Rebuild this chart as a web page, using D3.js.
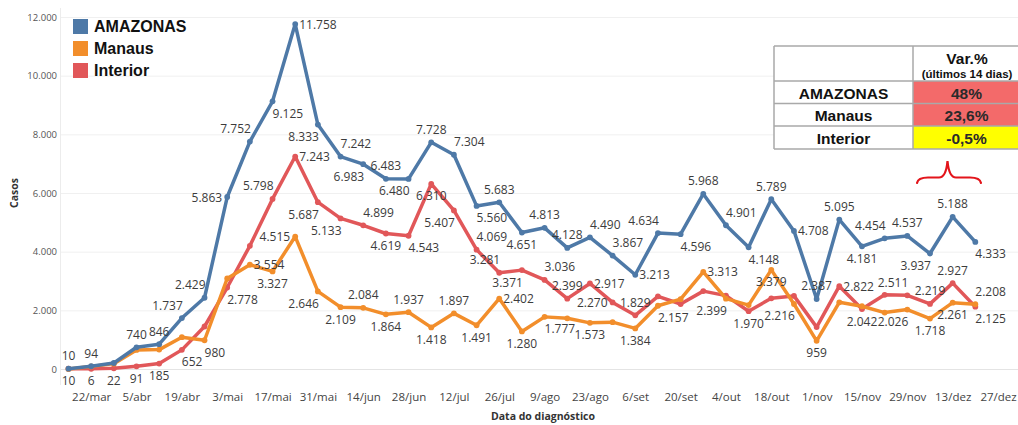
<!DOCTYPE html>
<html>
<head>
<meta charset="utf-8">
<script src="https://cdn.jsdelivr.net/npm/d3@7"></script>
<style>
  html, body { margin: 0; padding: 0; background: #fff; }
  svg { display: block; }
</style>
</head>
<body>
<svg id="chart" width="1018" height="425"></svg>
<script>
// Weekly case counts by date of diagnosis (week starting Sunday)
const weeks = [
  "2020-03-15","2020-03-22","2020-03-29","2020-04-05","2020-04-12","2020-04-19","2020-04-26",
  "2020-05-03","2020-05-10","2020-05-17","2020-05-24","2020-05-31","2020-06-07","2020-06-14",
  "2020-06-21","2020-06-28","2020-07-05","2020-07-12","2020-07-19","2020-07-26","2020-08-02",
  "2020-08-09","2020-08-16","2020-08-23","2020-08-30","2020-09-06","2020-09-13","2020-09-20",
  "2020-09-27","2020-10-04","2020-10-11","2020-10-18","2020-10-25","2020-11-01","2020-11-08",
  "2020-11-15","2020-11-22","2020-11-29","2020-12-06","2020-12-13","2020-12-20"
];
const amazonas = [10, 94, 205, 740, 846, 1737, 2429, 5863, 7752, 9125, 11758, 8333, 7242, 6983, 6483,
  6480, 7728, 7304, 5560, 5683, 4651, 4813, 4128, 4490, 3867, 3213, 4634, 4596, 5968, 4901,
  4148, 5789, 4708, 2387, 5095, 4181, 4454, 4537, 3937, 5188, 4333];
const manaus = [0, 88, 183, 649, 661, 1085, 980, 3085, 3554, 3327, 4515, 2646, 2109, 2084, 1864,
  1937, 1418, 1897, 1491, 2402, 1280, 1777, 1729, 1573, 1597, 1384, 2157, 2380, 3313, 2399,
  2178, 3379, 2216, 959, 2273, 2139, 1924, 2026, 1718, 2261, 2208];
const interior = [10, 6, 22, 91, 185, 652, 1449, 2778, 4198, 5798, 7243, 5687, 5133, 4899, 4619,
  4543, 6310, 5407, 4069, 3281, 3371, 3036, 2399, 2917, 2270, 1829, 2477, 2216, 2655, 2502,
  1970, 2410, 2492, 1428, 2822, 2042, 2530, 2511, 2219, 2927, 2125];

const seriesNames = ["AMAZONAS", "Manaus", "Interior"];

const tickDates = ["2020-03-22","2020-04-05","2020-04-19","2020-05-03","2020-05-17","2020-05-31",
  "2020-06-14","2020-06-28","2020-07-12","2020-07-26","2020-08-09","2020-08-23","2020-09-06",
  "2020-09-20","2020-10-04","2020-10-18","2020-11-01","2020-11-15","2020-11-29","2020-12-13","2020-12-27"];
const tickLabels = ["22/mar","5/abr","19/abr","3/mai","17/mai","31/mai","14/jun","28/jun","12/jul",
  "26/jul","9/ago","23/ago","6/set","20/set","4/out","18/out","1/nov","15/nov","29/nov","13/dez","27/dez"];
const yTicks = [0, 2000, 4000, 6000, 8000, 10000, 12000];

// Variation over the last 14 days
const tableRows = ["AMAZONAS", "Manaus", "Interior"];
const tableValues = ["48%", "23,6%", "-0,5%"];

// Where each point's value label sits relative to the point ("" = no label)
const amazonasLabelPos = ["t","t","","t","t","tl","tl","l","tl","br","r","bl","tr","bl","t","bl","t","tr",
  "br","t","b","t","t","tr","tr","r","tl","br","t","tr","br","t","r","t","t","b","tl","t","bl","t","br"];
const manausLabelPos = ["","","","","","","br","","r","b","l","bl","b","t","b","t","b","t","b","r","b","br",
  "","b","","b","br","","r","bl","","b","bl","b","","","","bl","b","b","tr"];
const interiorLabelPos = ["b","b","b","b","b","br","","br","","tl","r","bl","bl","tr","b","br","b","bl","tr",
  "tl","bl","tr","t","r","l","t","","","","","b","","","","r","b","","tl","t","t","br"];

const colors = ["#4e79a7", "#f28e2b", "#e15759"];

const svg = d3.select("#chart");
const parse = d3.utcParse("%Y-%m-%d");
const fmt = d3.formatLocale({decimal: ",", thousands: ".", grouping: [3], currency: ["R$", ""]}).format(",d");

const x = d3.scaleUtc()
  .domain([parse("2020-03-15"), parse("2020-12-27")])
  .range([68.5, 998]);
const y = d3.scaleLinear().domain([0, 12000]).range([369, 17]);

// gridlines
svg.append("g")
  .selectAll("line")
  .data(yTicks)
  .join("line")
  .attr("x1", 61).attr("x2", 1018)
  .attr("y1", d => y(d) + 0.5).attr("y2", d => y(d) + 0.5)
  .attr("stroke", d => d === 0 ? "#e4e4e4" : "#f0f0f0")
  .attr("stroke-width", 1);

// vertical axis rule
svg.append("line")
  .attr("x1", 60.5).attr("x2", 60.5).attr("y1", 8).attr("y2", 385)
  .attr("stroke", "#ececec");

// y axis
const yAxis = d3.axisLeft(y).tickValues(yTicks).tickSize(0).tickPadding(0)
  .tickFormat(d => fmt(d));
const gy = svg.append("g").attr("transform", "translate(57,0)").call(yAxis);
gy.select(".domain").remove();
gy.selectAll("text")
  .attr("font-family", "'Open Sans', sans-serif")
  .attr("font-size", "9.5px")
  .attr("fill", "#555");

// x axis
const xAxis = d3.axisBottom(x)
  .tickValues(tickDates.map(parse))
  .tickSize(0).tickPadding(0)
  .tickFormat((d, i) => tickLabels[i]);
const gx = svg.append("g").attr("transform", "translate(0,393)").call(xAxis);
gx.select(".domain").remove();
gx.selectAll("text")
  .attr("font-family", "'Open Sans', sans-serif")
  .attr("font-size", "11.5px")
  .attr("fill", "#444");

// axis titles
svg.append("text")
  .attr("transform", "translate(18,193) rotate(-90)")
  .attr("text-anchor", "middle")
  .attr("font-family", "'Open Sans', sans-serif")
  .attr("font-weight", "bold")
  .attr("font-size", "10.5px")
  .attr("fill", "#333")
  .text("Casos");
svg.append("text")
  .attr("x", 543).attr("y", 420)
  .attr("text-anchor", "middle")
  .attr("font-family", "'Open Sans', sans-serif")
  .attr("font-weight", "bold")
  .attr("font-size", "10.5px")
  .attr("fill", "#333")
  .text("Data do diagnóstico");

// series
const dates = weeks.map(parse);
const seriesValues = [amazonas, manaus, interior];
const labelPos = [amazonasLabelPos, manausLabelPos, interiorLabelPos];
const line = d3.line().x(d => x(d.date)).y(d => y(d.value));

const series = seriesValues.map((vals, s) => ({
  name: seriesNames[s],
  color: colors[s],
  points: vals.map((v, i) => ({date: dates[i], value: v, pos: labelPos[s][i]}))
}));

// drawing order: Interior, Manaus, AMAZONAS on top
const drawOrder = [2, 1, 0];
const linesG = svg.append("g");
drawOrder.forEach(s => {
  const sr = series[s];
  linesG.append("path")
    .datum(sr.points)
    .attr("d", line)
    .attr("fill", "none")
    .attr("stroke", sr.color)
    .attr("stroke-width", 3.5)
    .attr("stroke-linejoin", "round")
    .attr("stroke-linecap", "round");
  linesG.append("g")
    .selectAll("circle")
    .data(sr.points)
    .join("circle")
    .attr("cx", d => x(d.date))
    .attr("cy", d => y(d.value))
    .attr("r", 2.9)
    .attr("fill", sr.color);
});

// value labels
const placements = {
  t:  {anchor: "middle", dx: 0,  dy: -13},
  b:  {anchor: "middle", dx: 0,  dy: 12},
  r:  {anchor: "start",  dx: 4,  dy: 0},
  l:  {anchor: "end",    dx: -5, dy: 0},
  tr: {anchor: "start",  dx: 0,  dy: -13},
  tl: {anchor: "end",    dx: 1,  dy: -13},
  br: {anchor: "start",  dx: 0,  dy: 12},
  bl: {anchor: "end",    dx: 1,  dy: 12}
};
const labelsG = svg.append("g")
  .attr("font-family", "'Open Sans', sans-serif")
  .attr("font-size", "12px")
  .attr("fill", "#3c3c3c");
series.forEach(sr => {
  labelsG.append("g")
    .selectAll("text")
    .data(sr.points.filter(p => p.pos))
    .join("text")
    .attr("x", d => x(d.date) + placements[d.pos].dx)
    .attr("y", d => y(d.value) + placements[d.pos].dy)
    .attr("text-anchor", d => placements[d.pos].anchor)
    .attr("dominant-baseline", "central")
    .text(d => fmt(d.value));
});

// legend
const legend = svg.append("g").attr("transform", "translate(73,19)");
seriesNames.forEach((name, i) => {
  const g = legend.append("g").attr("transform", `translate(0,${i * 22})`);
  g.append("rect").attr("width", 15).attr("height", 15).attr("fill", colors[i]);
  g.append("text")
    .attr("x", 21).attr("y", 7.5)
    .attr("dominant-baseline", "central")
    .attr("font-family", "'Liberation Sans', Arial, sans-serif")
    .attr("font-weight", "bold")
    .attr("font-size", "16px")
    .attr("fill", "#111")
    .text(name);
});

// variation table
const table = svg.append("g")
  .attr("font-family", "'Liberation Sans', Arial, sans-serif")
  .attr("font-weight", "bold");
const tX0 = 774, tX1 = 913, tX2 = 1021;
const rowTops = [46, 81, 103.5, 126, 149];
const cellFill = ["#f36a6a", "#f36a6a", "#ffff00"];
table.append("rect")
  .attr("x", tX0).attr("y", rowTops[0])
  .attr("width", tX2 - tX0).attr("height", rowTops[4] - rowTops[0])
  .attr("fill", "#fff");
tableRows.forEach((r, i) => {
  table.append("rect")
    .attr("x", tX1).attr("y", rowTops[i + 1])
    .attr("width", tX2 - tX1).attr("height", rowTops[i + 2] - rowTops[i + 1])
    .attr("fill", cellFill[i]);
  table.append("text")
    .attr("x", (tX0 + tX1) / 2).attr("y", (rowTops[i + 1] + rowTops[i + 2]) / 2 + 1)
    .attr("text-anchor", "middle").attr("dominant-baseline", "central")
    .attr("font-size", "15.5px").attr("fill", "#111")
    .text(r);
  table.append("text")
    .attr("x", (tX1 + tX2) / 2 - 0.5).attr("y", (rowTops[i + 1] + rowTops[i + 2]) / 2 + 1)
    .attr("text-anchor", "middle").attr("dominant-baseline", "central")
    .attr("font-size", "15.5px").attr("fill", "#2a2a2a")
    .text(tableValues[i]);
});
table.append("text")
  .attr("x", 967).attr("y", 58)
  .attr("text-anchor", "middle").attr("dominant-baseline", "central")
  .attr("font-size", "15.5px").attr("fill", "#111")
  .text("Var.%");
table.append("text")
  .attr("x", 967).attr("y", 74)
  .attr("text-anchor", "middle").attr("dominant-baseline", "central")
  .attr("font-size", "11.5px").attr("fill", "#111")
  .text("(últimos 14 dias)");
// grid of the table
const borderColor = "#a9a9a9";
rowTops.forEach(t => {
  table.append("line").attr("x1", tX0).attr("x2", tX2).attr("y1", t).attr("y2", t)
    .attr("stroke", borderColor).attr("stroke-width", 1.5);
});
[tX0, tX1].forEach(xx => {
  table.append("line").attr("x1", xx).attr("x2", xx).attr("y1", rowTops[0]).attr("y2", rowTops[4])
    .attr("stroke", borderColor).attr("stroke-width", 1.5);
});

// red brace marking the last two weeks
svg.append("path")
  .attr("d", "M917,183 Q918,177.5 928,177.5 L939,177.5 Q946,177.5 947.5,161 Q949,177.5 956,177.5 L970,177.5 Q980,177.5 981,183")
  .attr("fill", "none")
  .attr("stroke", "#e3151b")
  .attr("stroke-width", 2.2)
  .attr("stroke-linecap", "round");
</script>
</body>
</html>
